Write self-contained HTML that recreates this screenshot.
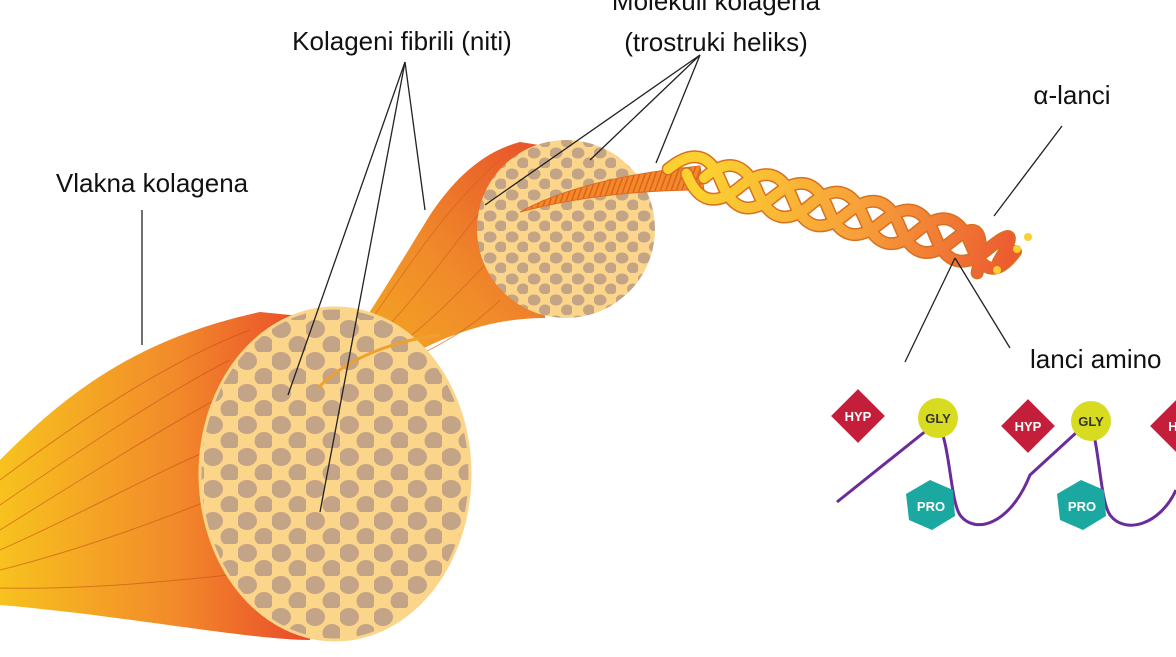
<!DOCTYPE html>
<html><head><meta charset="utf-8"><style>
html,body{margin:0;padding:0;background:#fff;width:1176px;height:657px;overflow:hidden}
text{font-family:"Liberation Sans",sans-serif;fill:#111}
</style></head><body>
<svg width="1176" height="657" viewBox="0 0 1176 657" xmlns="http://www.w3.org/2000/svg">
<defs>
<linearGradient id="fan" x1="0" y1="0" x2="1" y2="0">
<stop offset="0" stop-color="#f7c21e"/><stop offset="0.55" stop-color="#f28a2a"/><stop offset="1" stop-color="#e8452a"/>
</linearGradient>
<linearGradient id="fan2" x1="0" y1="1" x2="1" y2="0">
<stop offset="0" stop-color="#f6b21e"/><stop offset="0.5" stop-color="#f08a2a"/><stop offset="1" stop-color="#e64a2a"/>
</linearGradient>
<linearGradient id="hel" gradientUnits="userSpaceOnUse" x1="0" y1="0" x2="320" y2="0">
<stop offset="0" stop-color="#fbd030"/><stop offset="0.5" stop-color="#f7a03a"/><stop offset="1" stop-color="#ec5a30"/>
</linearGradient>
<pattern id="blobs" patternUnits="userSpaceOnUse" width="34" height="32">
<rect width="34" height="32" fill="#fbd58a"/>
<ellipse cx="9" cy="9" rx="10" ry="9" fill="#c4a486"/>
<ellipse cx="26" cy="25" rx="9.5" ry="9" fill="#c4a486"/>
</pattern>
<pattern id="blobs2" patternUnits="userSpaceOnUse" width="22" height="21">
<rect width="22" height="21" fill="#fbd58a"/>
<ellipse cx="6" cy="6" rx="6.5" ry="5.5" fill="#c4a486"/>
<ellipse cx="17" cy="16" rx="6" ry="5.5" fill="#c4a486"/>
</pattern>
<pattern id="stripe" patternUnits="userSpaceOnUse" width="5" height="5" patternTransform="rotate(20)">
<rect width="5" height="5" fill="#f28a2a"/><rect width="1.5" height="5" fill="#e0601e"/>
</pattern>
</defs>

<path d="M0,460 C60,400 130,340 260,312 L320,318 L310,640 C250,640 120,615 0,605 Z" fill="url(#fan)"/>
<g stroke="#c8501a" stroke-width="1" fill="none" opacity="0.6">
<path d="M0,480 C80,420 170,360 250,330"/><path d="M0,505 C80,450 170,390 230,360"/>
<path d="M0,530 C80,480 160,430 215,400"/><path d="M0,550 C80,515 160,470 210,450"/>
<path d="M0,570 C80,550 160,520 210,500"/><path d="M0,588 C90,590 180,580 230,575"/>
</g>
<path d="M318,388 C360,330 390,280 430,215 C460,170 490,150 520,142 L570,150 L545,318 C500,318 460,330 420,350 C380,370 340,385 318,388 Z" fill="url(#fan2)"/>
<g stroke="#d0601a" stroke-width="1" fill="none" opacity="0.6">
<path d="M320,386 C380,320 420,230 500,160"/><path d="M320,386 C390,340 440,260 490,200"/>
<path d="M320,386 C400,360 450,300 490,260"/><path d="M320,386 C410,370 470,330 500,300"/>
</g>
<ellipse cx="335" cy="474" rx="135" ry="166" fill="url(#blobs)"/>
<circle cx="566" cy="229" r="89" fill="url(#blobs2)"/>
<ellipse cx="335" cy="474" rx="135" ry="166" fill="none" stroke="#fbd58a" stroke-width="3"/>
<path d="M318,388 C350,355 400,340 440,335" stroke="#f0a030" stroke-width="3" fill="none"/>
<path d="M520,212 C560,190 620,174 700,166 L704,190 C640,190 580,196 520,212 Z" fill="url(#stripe)" stroke="#e06a20" stroke-width="1"/>
<g transform="translate(704,178) rotate(14)" fill="none" stroke-linecap="round">
<g stroke="#d87020" stroke-width="13">
<path d="M0,0 Q27,-38 55,0 T110,0 T165,0 T220,0 T275,0 T320,-4"/>
<path d="M-37,0 Q-9,-38 18,0 T73,0 T128,0 T183,0 T238,0 T293,0 T306,10"/>
<path d="M-18,0 Q9,38 37,0 T92,0 T147,0 T202,0 T257,0 T288,26"/>
</g>
<g stroke="url(#hel)" stroke-width="10">
<path d="M0,0 Q27,-38 55,0 T110,0 T165,0 T220,0 T275,0 T320,-4"/>
<path d="M-37,0 Q-9,-38 18,0 T73,0 T128,0 T183,0 T238,0 T293,0 T306,10"/>
<path d="M-18,0 Q9,38 37,0 T92,0 T147,0 T202,0 T257,0 T288,26"/>
</g>
</g>
<circle cx="1028" cy="237" r="4" fill="#fbd030"/><circle cx="1017" cy="249" r="4" fill="#fbd030"/><circle cx="997" cy="270" r="4" fill="#fbd030"/>

<g stroke="#222" stroke-width="1.3">
<line x1="405" y1="62" x2="288" y2="395"/><line x1="405" y1="62" x2="320" y2="512"/><line x1="405" y1="62" x2="425" y2="210"/>
<line x1="700" y1="55" x2="485" y2="205"/><line x1="700" y1="55" x2="590" y2="160"/><line x1="700" y1="55" x2="656" y2="163"/>
<line x1="142" y1="210" x2="142" y2="345"/>
<line x1="1062" y1="126" x2="994" y2="216"/>
<line x1="955" y1="258" x2="905" y2="362"/><line x1="955" y1="258" x2="1010" y2="348"/>
</g>

<g style="font-size:26px">
<text x="402" y="50" text-anchor="middle">Kolageni fibrili (niti)</text>
<text x="716" y="10" text-anchor="middle">Molekuli kolagena</text>
<text x="716" y="51" text-anchor="middle">(trostruki heliks)</text>
<text x="1072" y="104" text-anchor="middle">α-lanci</text>
<text x="152" y="192" text-anchor="middle">Vlakna kolagena</text>
<text x="1030" y="368">lanci amino</text>
</g>

<path d="M837,502 L937,422 C950,440 950,500 960,515 C975,535 1010,525 1030,475 L1090,420 C1100,450 1100,500 1110,515 C1125,535 1160,525 1176,490" stroke="#6a2c9a" stroke-width="3" fill="none"/>
<g font-size="13" font-weight="bold" text-anchor="middle">
<rect x="839" y="397" width="38" height="38" fill="#c41e3a" transform="rotate(45 858 416)"/><text x="858" y="421" style="fill:#fff">HYP</text>
<rect x="1009" y="407" width="38" height="38" fill="#c41e3a" transform="rotate(45 1028 426)"/><text x="1028" y="431" style="fill:#fff">HYP</text>
<rect x="1158" y="407" width="38" height="38" fill="#c41e3a" transform="rotate(45 1177 426)"/><text x="1173" y="431" style="fill:#fff">H</text>
<circle cx="938" cy="418" r="20" fill="#d8dc20"/><text x="938" y="423" style="fill:#333">GLY</text>
<circle cx="1091" cy="421" r="20" fill="#d8dc20"/><text x="1091" y="426" style="fill:#333">GLY</text>
<polygon points="930,480 953,490 955,516 932,530 909,520 906,494" fill="#1aa8a0"/><text x="931" y="511" style="fill:#fff">PRO</text>
<polygon points="1081,480 1104,490 1106,516 1083,530 1060,520 1057,494" fill="#1aa8a0"/><text x="1082" y="511" style="fill:#fff">PRO</text>
</g>
</svg>
</body></html>
